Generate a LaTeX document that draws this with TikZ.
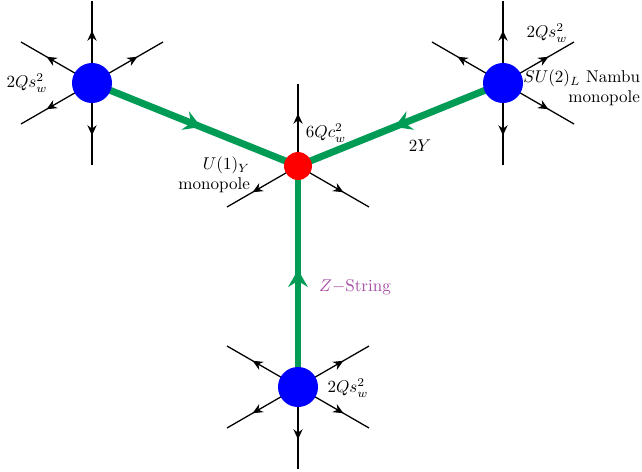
\documentclass[tikz,border=0pt]{standalone}
\usetikzlibrary{arrows.meta,decorations.markings}
\definecolor{strgreen}{RGB}{0,155,85}
\definecolor{strviolet}{RGB}{166,77,166}
\begin{document}
\begin{tikzpicture}[x=0.587pt,y=-0.587pt,
  arm/.style={line width=0.75pt,postaction={decorate},
    decoration={markings,mark=at position 0.64 with {\arrow{Stealth[length=6pt,width=5.4pt,inset=2pt]}}}},
  zstring/.style={strgreen,line width=4.1pt,postaction={decorate},
    decoration={markings,mark=at position 0.53 with {\arrow{Stealth[length=10pt,width=11.5pt,inset=3.5pt]}}}},
  blueblob/.style={circle,fill=blue,draw=none,minimum size=23.5pt,inner sep=0pt},
  redblob/.style={circle,fill=red,draw=none,minimum size=16.4pt,inner sep=0pt},
  lab/.style={inner sep=1pt}]
\useasboundingbox (0,0) rectangle (642,472);
% centres (y axis points down, so polar angles are mirrored)
\coordinate (cL) at (92,83);
\coordinate (cR) at (503,83);
\coordinate (cM) at (298,166);
\coordinate (cB) at (298,387);
% arm ends
\foreach \n/\a in {1/270,2/330,3/210,4/150,5/90}{
  \coordinate (L\n) at ([shift={(\a:82)}]cL);}
\foreach \n/\a in {1/270,2/330,3/210,4/30,5/90}{
  \coordinate (R\n) at ([shift={(\a:82)}]cR);}
\foreach \n/\a in {1/270,2/150,3/30}{
  \coordinate (M\n) at ([shift={(\a:82)}]cM);}
\foreach \n/\a in {1/330,2/210,3/150,4/30,5/90}{
  \coordinate (B\n) at ([shift={(\a:82)}]cB);}
% arms
\foreach \n in {1,...,5}{\draw[arm] (cL) -- (L\n);}
\foreach \n in {1,...,5}{\draw[arm] (cR) -- (R\n);}
\foreach \n in {1,...,3}{\draw[arm] (cM) -- (M\n);}
\foreach \n in {1,...,5}{\draw[arm] (cB) -- (B\n);}
% strings
\draw[zstring] (cL) -- (cM);
\draw[zstring] (cR) -- (cM);
\draw[zstring] (cB) -- (cM);
% monopoles
\node[blueblob] (nL) at (cL) {};
\node[blueblob] (nR) at (cR) {};
\node[blueblob] (nB) at (cB) {};
\node[redblob] (nM) at (cM) {};
% labels
\node[lab] (tL) at (27,83) {$2Qs_w^2$};
\node[lab] (tR) at (547,33) {$2Qs_w^2$};
\node[lab,anchor=east,align=right] (tN) at (642,88) {$SU(2)_L$ Nambu\\monopole};
\node[lab] (tM) at (326,133) {$6Qc_w^2$};
\node[lab] (tY) at (420,146) {$2Y$};
\node[lab,anchor=east,align=right] (tU) at (252,175) {$U(1)_Y$\\monopole};
\node[lab,text=strviolet] (tZ) at (355,287) {$Z-$String};
\node[lab] (tB) at (348,388) {$2Qs_w^2$};
\end{tikzpicture}
\end{document}
